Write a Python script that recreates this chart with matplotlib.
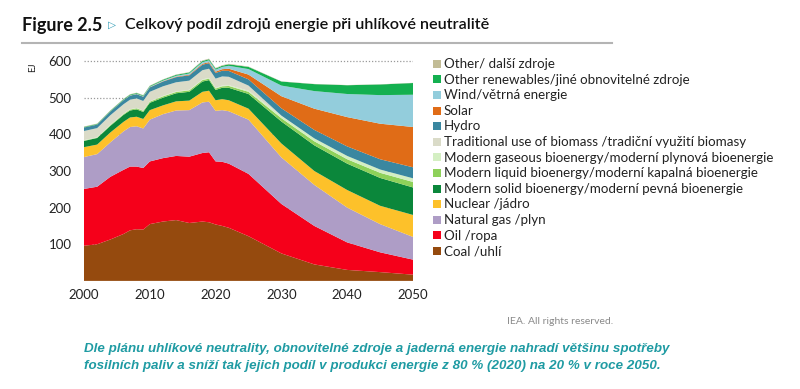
import matplotlib
matplotlib.use("Agg")
import matplotlib.pyplot as plt
from matplotlib.patches import Rectangle
from matplotlib.lines import Line2D

plt.rcParams['font.family'] = ['Lato', 'DejaVu Sans']

years = [2000, 2002, 2004, 2006, 2007, 2008, 2009, 2010, 2012, 2014, 2016,
         2018, 2019, 2020, 2021, 2022, 2025, 2030, 2035, 2040, 2045, 2050]

# EJ per source, bottom of the stack first
coal = [96, 100, 113, 128, 138, 141, 140, 155, 162, 166, 158,
        162, 160, 154, 150, 145, 122, 75, 45, 30, 24, 17]
oil = [155, 157, 171, 175, 174, 171, 168, 171, 173, 175, 181,
       187, 191, 172, 175, 175, 170, 135, 105, 75, 54, 41]
gas = [87, 89, 94, 105, 108, 110, 108, 114, 120, 124, 127,
       138, 138, 138, 141, 143, 148, 127, 112, 95, 77, 62]
nuclear = [27, 26, 27, 26, 26, 26, 26, 26, 24, 25, 26,
           29, 30, 29, 30, 30, 30, 38, 38, 48, 50, 60]
bio_solid = [17, 18, 18, 19, 19, 20, 19, 20, 21, 22, 24,
             28, 29, 28, 31, 34, 40, 60, 70, 72, 76, 75]
bio_liquid = [1, 1, 2, 2, 2.5, 3, 3, 3, 3.5, 3.5, 4,
              4, 4, 4, 4, 5, 6, 9, 11, 12, 14, 15]
bio_gas = [1, 1, 1, 1, 1, 1, 1, 1, 1.5, 1.5, 1.5,
           2, 2, 2, 2, 2, 3, 6, 8, 9, 9, 10]
trad_bio = [25, 25, 26, 26, 26, 26, 26, 26, 26, 25, 25,
            25, 25, 25, 25, 23, 14, 1, 0, 0, 0, 0]
hydro = [9.5, 9.5, 10, 11, 11, 11.5, 11.5, 12, 13, 14, 14.5,
         15, 15, 15.5, 15.5, 16, 17, 20, 23, 26, 28, 30]
solar = [0.2, 0.2, 0.3, 0.3, 0.4, 0.4, 0.5, 0.6, 0.9, 1.3, 1.8,
         2.6, 3, 3.5, 4.2, 6, 13, 33, 58, 80, 97, 110]
wind = [0.1, 0.2, 0.3, 0.5, 0.6, 0.8, 1, 1.2, 1.8, 2.5, 3.3,
        4.5, 5, 5.5, 6.2, 8, 15, 29, 48, 63, 78, 88]
other_ren = [1.5, 1.5, 1.7, 1.8, 2, 2, 2, 2.1, 2.3, 2.5, 2.7,
             3, 3, 3.1, 3.2, 4, 6, 11, 19, 24, 29, 32]
other = [1, 1, 1, 1, 1, 1, 1, 1, 1, 1, 1,
         1.5, 1.5, 1.5, 1.5, 1.5, 1, 0.5, 0.5, 0.5, 0.5, 0.5]

series = [coal, oil, gas, nuclear, bio_solid, bio_liquid, bio_gas, trad_bio,
          hydro, solar, wind, other_ren, other]
labels = ["Coal /uhlí", "Oil /ropa", "Natural gas /plyn", "Nuclear /jádro",
          "Modern solid bioenergy/moderní pevná bioenergie",
          "Modern liquid bioenergy/moderní kapalná bioenergie",
          "Modern gaseous bioenergy/moderní plynová bioenergie",
          "Traditional use of biomass /tradiční využití biomasy",
          "Hydro", "Solar", "Wind/větrná energie",
          "Other renewables/jiné obnovitelné zdroje", "Other/ další zdroje"]
colors = ["#954A0E", "#F5001A", "#AE9DC6", "#FDC12A", "#0B873B", "#8ED15A",
          "#D4EFC3", "#DADBC8", "#3A87A0", "#E06C17", "#93CDDC", "#14B050",
          "#C2BC96"]

fig = plt.figure(figsize=(8, 3.89), dpi=100)
W, H = 800, 389
ax = fig.add_axes([84 / W, 1 - 280.9 / H, 329 / W, 227.2 / H])

ax.stackplot(years, *series, colors=colors, linewidth=0)
ax.set_xlim(2000, 2050)
ax.set_ylim(0, 620)
ax.set_yticks([100, 200, 300, 400, 500, 600])
ax.set_xticks([2000, 2010, 2020, 2030, 2040, 2050])
ax.grid(axis='y', color='#9a9a9a', linestyle=(0, (1, 1.5)), linewidth=0.9)
ax.set_axisbelow(True)
for s in ax.spines.values():
    s.set_visible(False)
ax.tick_params(axis='y', length=0, pad=9, labelsize=9.5, labelcolor='#222222')
ax.tick_params(axis='x', length=0, pad=6, labelsize=9.5, labelcolor='#222222')

fig.text(33 / W, 1 - 67 / H, "EJ", rotation=90, fontsize=7, color='#222222',
         ha='center', va='center')

# legend, top entry first
for i, k in enumerate(range(len(series) - 1, -1, -1)):
    yc = 1 - (64 + i * 15.6) / H
    fig.add_artist(Rectangle((433 / W, yc - 3.8 / H), 8 / W, 8 / H,
                             transform=fig.transFigure, color=colors[k],
                             linewidth=0))
    fig.text(444 / W, yc, labels[k], fontsize=9.6, color='#222222',
             ha='left', va='center')

# title
fig.text(22 / W, 1 - 25 / H, "Figure 2.5", fontsize=13, weight='bold',
         color='#111111', va='center')
fig.text(112 / W, 1 - 25 / H, "\u25B7", fontsize=7.5, color='#2E9BB5',
         va='center', ha='center', family='DejaVu Sans')
fig.text(125 / W, 1 - 25 / H, "Celkový podíl zdrojů energie při uhlíkové neutralitě",
         fontsize=11.6, weight='semibold', color='#111111', va='center')
fig.add_artist(Line2D([22 / W, 612 / W], [1 - 42.7 / H, 1 - 42.7 / H],
                      transform=fig.transFigure, color='#b4b4b4', linewidth=1.5))

fig.text(613 / W, 1 - 322 / H, "IEA. All rights reserved.", fontsize=7.5,
         color='#8a8a8a', ha='right', va='center')

caption_1 = "Dle plánu uhlíkové neutrality, obnovitelné zdroje a jaderná energie nahradí většinu spotřeby"
caption_2 = "fosilních paliv a sníží tak jejich podíl v produkci energie z 80 % (2020) na 20 % v roce 2050."
for line, ypx in [(caption_1, 349), (caption_2, 366)]:
    fig.text(84 / W, 1 - ypx / H, line, fontsize=9.6, weight='bold', style='italic',
             color='#1F9BA3', family='Liberation Sans', ha='left', va='center')

fig.savefig("out.png", dpi=100)
